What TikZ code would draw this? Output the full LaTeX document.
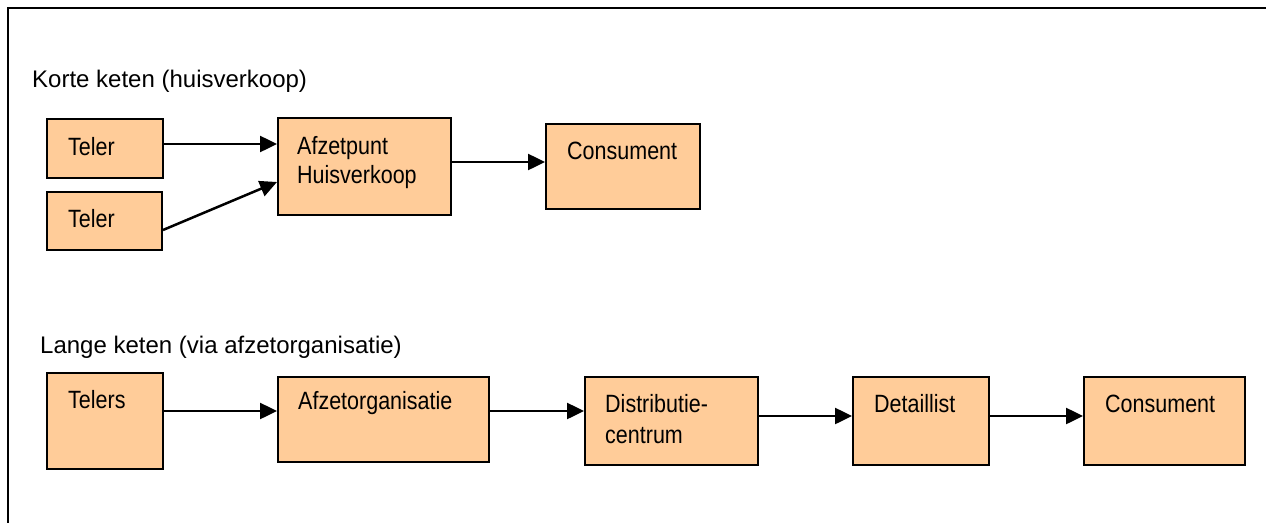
\documentclass[tikz,border=0pt]{standalone}
\usepackage{fontspec}
\setmainfont{Liberation Sans}
\newfontfamily\boxfont[FakeStretch=0.86]{Liberation Sans}
\usetikzlibrary{arrows.meta}
\definecolor{peach}{HTML}{FFCC99}
\begin{document}
\begin{tikzpicture}[x=1pt,y=-1pt,
  box/.style={draw=black,line width=2pt,fill=peach,inner sep=0pt,anchor=north west},
  ttl/.style={anchor=base west,inner sep=0pt,font=\fontsize{24}{29}\selectfont},
  lbl/.style={anchor=base west,inner sep=0pt,font=\boxfont\fontsize{25}{29}\selectfont},
  arr/.style={line width=2.5pt,-{Triangle[length=17pt,width=16pt]}},
  frame/.style={line width=2.5pt}]
\useasboundingbox (0,0) rectangle (1266,522);
\coordinate (fb) at (8,523);
\coordinate (fc) at (8,8);
\coordinate (fr) at (1267,8);
\draw[frame] (fb) -- (fc) -- (fr);

% upper chain
\node[ttl] (title1) at (32,87) {Korte keten (huisverkoop)};
\node[box,minimum width=116pt,minimum height=59pt] (t1) at (46,118) {};
\node[box,minimum width=115pt,minimum height=58pt] (t2) at (46,191) {};
\node[box,minimum width=173pt,minimum height=97pt] (ah) at (277,117) {};
\node[box,minimum width=154pt,minimum height=85pt] (c1) at (545,123) {};
\node[lbl] (t1txt) at (68,155) {Teler};
\node[lbl] (t2txt) at (68,227) {Teler};
\node[lbl] (ahtxt1) at (297,154) {Afzetpunt};
\node[lbl] (ahtxt2) at (297,183) {Huisverkoop};
\node[lbl] (c1txt) at (567,159) {Consument};

\draw[arr] ([yshift=4.5pt]t1.east) coordinate (a1) -- (a1 -| ah.west);
\draw[arr] ([yshift=-9pt]t2.east) -- ([yshift=-15.5pt]ah.west);
\draw[arr] ([yshift=4.5pt]ah.east) coordinate (a3) -- (a3 -| c1.west);

% lower chain
\node[ttl] (title2) at (40,353) {Lange keten (via afzetorganisatie)};
\node[box,minimum width=116pt,minimum height=96pt] (ts) at (46,372) {};
\node[box,minimum width=211pt,minimum height=85pt] (ao) at (277,376) {};
\node[box,minimum width=173pt,minimum height=88pt] (dc) at (584,376) {};
\node[box,minimum width=136pt,minimum height=88pt] (dl) at (852,376) {};
\node[box,minimum width=161pt,minimum height=88pt] (c2) at (1083,376) {};
\node[lbl] (tstxt) at (68,408) {Telers};
\node[lbl] (aotxt) at (298,409) {Afzetorganisatie};
\node[lbl] (dctxt1) at (605,412) {Distributie-};
\node[lbl] (dctxt2) at (605,443) {centrum};
\node[lbl] (dltxt) at (874,412) {Detaillist};
\node[lbl] (c2txt) at (1105,412) {Consument};

\draw[arr] ([yshift=10pt]ts.east) coordinate (b1) -- (b1 -| ao.west);
\draw[arr] ([yshift=8.5pt]ao.east) coordinate (b2) -- (b2 -| dc.west);
\draw[arr] ([yshift=5pt]dc.east) coordinate (b3) -- (b3 -| dl.west);
\draw[arr] ([yshift=5pt]dl.east) coordinate (b4) -- (b4 -| c2.west);
\end{tikzpicture}
\end{document}
